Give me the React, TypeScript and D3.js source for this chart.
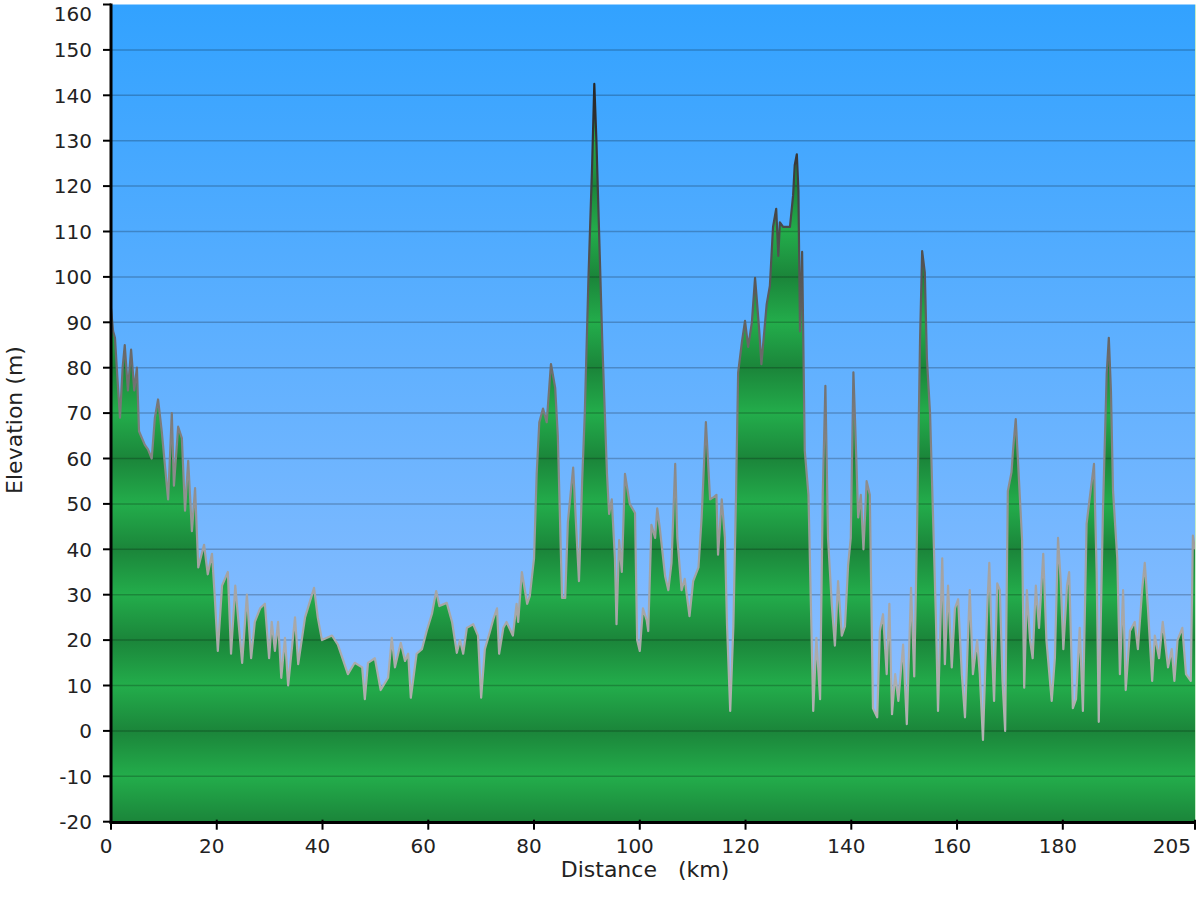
import * as d3 from 'd3';
import { useEffect, useRef } from 'react';

// elevation profile
const distanceKm = [
  0, 0.4, 0.75, 1.2, 1.7, 2.2, 2.6, 3.2, 3.8, 4.4, 4.9, 5.3, 6.4, 7.0, 7.7, 8.3, 8.9, 9.6,
  10.8, 11.5, 11.9, 12.7, 13.4, 14.0, 14.6, 15.3, 15.9, 16.5, 17.6, 18.3, 19.1, 19.6,
  20.2, 21.0, 22.1, 22.7, 23.5, 24.8, 25.7, 26.5, 27.2, 28.2, 29.1, 29.9, 30.4, 31.0,
  31.6, 32.2, 32.9, 33.5, 34.8, 35.4, 36.7, 38.4, 39.1, 39.9, 41.8, 42.9, 44.8, 46.1,
  47.5, 48.0, 48.6, 49.9, 51.0, 52.4, 53.1, 53.7, 54.8, 55.6, 56.2, 56.7, 57.8, 58.8,
  59.7, 60.7, 61.5, 62.1, 63.5, 64.5, 65.4, 66.0, 66.6, 67.3, 68.5, 69.4, 70.0, 70.7,
  71.7, 72.3, 73.0, 73.4, 74.2, 74.8, 76.0, 76.7, 77.0, 77.7, 78.7, 79.2, 80.0, 80.5,
  81.0, 81.7, 82.4, 83.2, 84.0, 84.5, 85.3, 85.9, 86.4, 87.4, 88.1, 88.5, 89.1, 89.6,
  90.3, 91.0, 91.4, 91.8, 92.3, 92.9, 93.8, 94.2, 94.7, 95.3, 95.6, 96.1, 96.6, 97.2,
  98.1, 99.1, 99.5, 100.0, 100.6, 101.3, 101.6, 102.2, 102.9, 103.3, 103.8, 104.8,
  105.4, 106.0, 106.7, 107.1, 107.9, 108.5, 109.4, 110.1, 111.1, 111.7, 112.5, 113.3,
  114.0, 114.5, 114.8, 115.5, 116.1, 116.5, 117.1, 117.7, 118.2, 118.6, 119.3, 119.9,
  120.5, 121.2, 121.8, 122.2, 122.6, 123.0, 124.0, 124.6, 125.2, 125.8, 126.2, 126.5,
  127.1, 128.4, 129.0, 129.3, 129.7, 130.0, 130.3, 130.7, 131.2, 131.9, 132.5, 132.8,
  133.4, 134.1, 134.6, 135.1, 135.6, 136.3, 136.9, 137.5, 138.2, 138.8, 139.4, 139.9,
  140.4, 140.9, 141.3, 141.8, 142.3, 142.9, 143.5, 144.1, 144.9, 145.4, 146.0, 146.7,
  147.2, 147.7, 148.3, 148.9, 149.8, 150.5, 151.3, 151.9, 152.4, 153.0, 153.4, 153.9,
  154.3, 154.9, 155.5, 156.0, 156.4, 157.2, 157.7, 158.3, 159.0, 159.6, 160.2, 160.9,
  161.5, 162.4, 163.0, 163.8, 164.3, 164.9, 165.7, 166.1, 166.6, 167.0, 167.6, 168.1,
  168.6, 169.1, 169.6, 170.3, 170.6, 171.1, 171.5, 172.3, 172.7, 173.2, 173.8, 174.3,
  174.9, 175.5, 176.3, 176.9, 177.9, 178.5, 179.1, 179.6, 180.1, 180.8, 181.2, 181.9,
  182.5, 183.2, 183.8, 184.5, 185.1, 185.9, 186.4, 186.8, 187.6, 188.3, 188.7, 189.1,
  189.5, 190.3, 190.8, 191.4, 191.9, 192.7, 193.6, 194.2, 195.0, 195.5, 196.1, 196.9,
  197.4, 198.2, 198.9, 199.9, 200.6, 201.1, 201.7, 202.6, 203.3, 204.2, 204.6, 205.0
];

const elevationM = [
  93, 88, 86.6, 78, 69, 80, 85, 75, 84, 75, 80, 66, 63, 62, 60, 69, 73, 66,
  51, 70, 54, 67, 64.5, 48.5, 59.5, 44, 53.5, 36, 41, 34.5, 39, 30,
  17.6, 32, 35, 17, 32, 15, 30, 16, 24, 27, 28, 16, 24, 17.6,
  24, 11.7, 20.5, 10, 25, 14.7, 25, 31.5, 25, 20, 21, 19, 12.5, 15,
  14, 7, 15, 16, 9, 11.7, 20.5, 14, 19.4, 15.4, 17, 7.3, 17, 18,
  22, 25.8, 30.8, 27.5, 28.2, 24, 17.2, 20, 17, 22.7, 23.5, 21, 7.3, 18,
  22, 24.6, 27, 17, 22.7, 24, 21, 28, 24, 35, 28, 29.7, 38, 56.6,
  68, 71, 68, 80.8, 75.6, 65, 29.3, 29.3, 46, 58, 42, 33, 55, 70,
  100, 125, 142.5, 130, 110, 86, 56.6, 47.8, 51, 38, 23.5, 42, 35, 56.6,
  50, 48, 20, 17.6, 27, 24.4, 22, 45.4, 42.5, 49, 44.5, 34,
  31, 37, 58.8, 42.5, 31, 33.5, 25.3, 33, 36, 47, 68, 51,
  51.5, 52, 38.8, 51, 42.5, 23.3, 4.4, 23, 52, 78.9, 85.5, 90.3,
  84.6, 90, 99.8, 94, 88, 80.8, 94, 98, 111, 115, 104.6, 112,
  111, 111, 118, 124.6, 127, 119, 88, 105.5, 61.7, 52, 20.5, 4.4,
  20.5, 7, 52, 76, 42.5, 28, 18.8, 33, 21, 23, 36.5, 42.5,
  79, 61.7, 47, 52, 40, 55, 52, 5, 3, 22, 25.7, 12.5,
  28, 3.7, 12.5, 6.6, 19, 1.5, 31.5, 12, 42, 86, 105.7, 101,
  82, 69.8, 45.6, 25, 4.4, 38, 14.7, 32, 14, 27, 29, 12.5,
  3, 31, 12.5, 20, 12.5, -2, 27, 37, 18, 6.6, 32.5, 31,
  11, 0, 52.8, 57, 62, 68.7, 60, 42, 9.5, 31, 20, 16,
  32, 22.7, 39, 20, 6.6, 16, 42.5, 33, 18, 32, 35, 5,
  7, 22.7, 4.4, 45.6, 51.4, 58.8, 35, 2, 49, 78.6, 86.6, 75,
  52.8, 38, 12.5, 31, 9, 22, 24, 18, 31, 37, 27, 11,
  21, 16, 24, 14, 18, 11, 20, 22.7, 12.5, 11, 43, 40
];

const xTicks = [0, 20, 40, 60, 80, 100, 120, 140, 160, 180, 205];
const yTicks = [-20, -10, 0, 10, 20, 30, 40, 50, 60, 70, 80, 90, 100, 110, 120, 130, 140, 150, 160];

const FONT = '"DejaVu Sans", Verdana, sans-serif';

const App = () => {
  const ref = useRef<SVGSVGElement | null>(null);

  useEffect(() => {
    if (!ref.current) return;
    const svg = d3.select(ref.current);
    svg.selectAll('*').remove();

    const x = d3.scaleLinear().domain([0, 205]).range([111, 1195]);
    const y = d3.scaleLinear().domain([-20, 160]).range([821.7, 4.5]);
    const [x0, x1] = x.range();
    const [yb, yt] = y.range();

    const points = distanceKm.map((d, i) => [d, elevationM[i]] as [number, number]);

    const defs = svg.append('defs');

    const sky = defs.append('linearGradient')
      .attr('id', 'sky').attr('gradientUnits', 'userSpaceOnUse')
      .attr('x1', 0).attr('x2', 0).attr('y1', yt).attr('y2', yb);
    sky.append('stop').attr('offset', 0).attr('stop-color', '#32a2ff');
    sky.append('stop').attr('offset', 1).attr('stop-color', '#9cc3ff');

    const band = defs.append('linearGradient')
      .attr('id', 'band').attr('x1', 0).attr('x2', 0).attr('y1', 0).attr('y2', 1);
    band.append('stop').attr('offset', 0).attr('stop-color', '#1b853a');
    band.append('stop').attr('offset', 0.5).attr('stop-color', '#23ad4b');
    band.append('stop').attr('offset', 1).attr('stop-color', '#1b853a');

    const period = y(0) - y(20);
    defs.append('pattern')
      .attr('id', 'bands').attr('patternUnits', 'userSpaceOnUse')
      .attr('x', 0).attr('y', y(0)).attr('width', 1200).attr('height', period)
      .append('rect').attr('width', 1200).attr('height', period).attr('fill', 'url(#band)');

    const edge = defs.append('linearGradient')
      .attr('id', 'edge').attr('gradientUnits', 'userSpaceOnUse')
      .attr('x1', 0).attr('x2', 0).attr('y1', y(150)).attr('y2', y(0));
    edge.append('stop').attr('offset', 0).attr('stop-color', '#1e1e1e');
    edge.append('stop').attr('offset', 0.45).attr('stop-color', '#6a6a6a');
    edge.append('stop').attr('offset', 0.75).attr('stop-color', '#a2a2a2');
    edge.append('stop').attr('offset', 1).attr('stop-color', '#b2b2b2');

    svg.append('rect')
      .attr('x', x0).attr('y', yt).attr('width', x1 - x0).attr('height', yb - yt)
      .attr('fill', 'url(#sky)');

    const area = d3.area<[number, number]>()
      .x(d => x(d[0])).y0(yb).y1(d => y(d[1]));
    const line = d3.line<[number, number]>()
      .x(d => x(d[0])).y(d => y(d[1]));

    svg.append('path').attr('d', area(points)!).attr('fill', 'url(#bands)');

    svg.append('g')
      .selectAll('line')
      .data(yTicks.filter(t => t > -20 && t < 160))
      .enter()
      .append('line')
      .attr('x1', x0).attr('x2', x1)
      .attr('y1', d => y(d)).attr('y2', d => y(d))
      .attr('stroke', '#000').attr('stroke-opacity', 0.22).attr('stroke-width', 1.5);

    svg.append('path').attr('d', line(points)!)
      .attr('fill', 'none').attr('stroke', 'url(#edge)')
      .attr('stroke-width', 2.2).attr('stroke-linejoin', 'round');

    // light right border
    svg.append('line')
      .attr('x1', x1 + 0.5).attr('x2', x1 + 0.5).attr('y1', yt).attr('y2', yb)
      .attr('stroke', '#c4ecc6').attr('stroke-width', 1);

    // axes
    const ax = svg.append('g').attr('stroke', '#000');
    ax.append('line').attr('x1', x0).attr('x2', x0).attr('y1', yt - 1).attr('y2', yb + 1.5)
      .attr('stroke-width', 3);
    ax.append('line').attr('x1', x0 - 1.5).attr('x2', x1 + 1).attr('y1', yb + 0.8).attr('y2', yb + 0.8)
      .attr('stroke-width', 3);
    ax.selectAll('.yt').data(yTicks).enter().append('line')
      .attr('x1', x0 - 8).attr('x2', x0).attr('y1', d => y(d)).attr('y2', d => y(d))
      .attr('stroke-width', 2);
    ax.selectAll('.xt').data(xTicks).enter().append('line')
      .attr('x1', d => x(d)).attr('x2', d => x(d)).attr('y1', yb - 2).attr('y2', yb + 8)
      .attr('stroke-width', 2);

    const labels = svg.append('g')
      .attr('font-family', FONT).attr('font-size', 20).attr('fill', '#222');

    labels.selectAll('.yl').data(yTicks).enter().append('text')
      .attr('x', 92)
      .attr('y', d => (d === 160 ? y(d) + 9 : y(d)))
      .attr('dy', '0.36em')
      .attr('text-anchor', 'end')
      .text(d => d);

    labels.selectAll('.xl').data(xTicks).enter().append('text')
      .attr('x', (d, i) => (i === xTicks.length - 1 ? 1191 : x(d) - 5))
      .attr('y', 853)
      .attr('text-anchor', (d, i) => (i === xTicks.length - 1 ? 'end' : 'middle'))
      .text(d => d);

    labels.append('text')
      .attr('transform', 'translate(22,420) rotate(-90)')
      .attr('text-anchor', 'middle')
      .attr('font-size', 22)
      .text('Elevation (m)');

    labels.append('text')
      .attr('x', 645).attr('y', 877)
      .attr('text-anchor', 'middle')
      .attr('font-size', 22)
      .attr('xml:space', 'preserve')
      .style('white-space', 'pre')
      .text('Distance   (km)');
  }, []);

  return (
    <svg
      ref={ref}
      width={1200}
      height={900}
      style={{ position: 'absolute', left: 0, top: 0, background: '#fff' }}
    />
  );
};

export default App;
